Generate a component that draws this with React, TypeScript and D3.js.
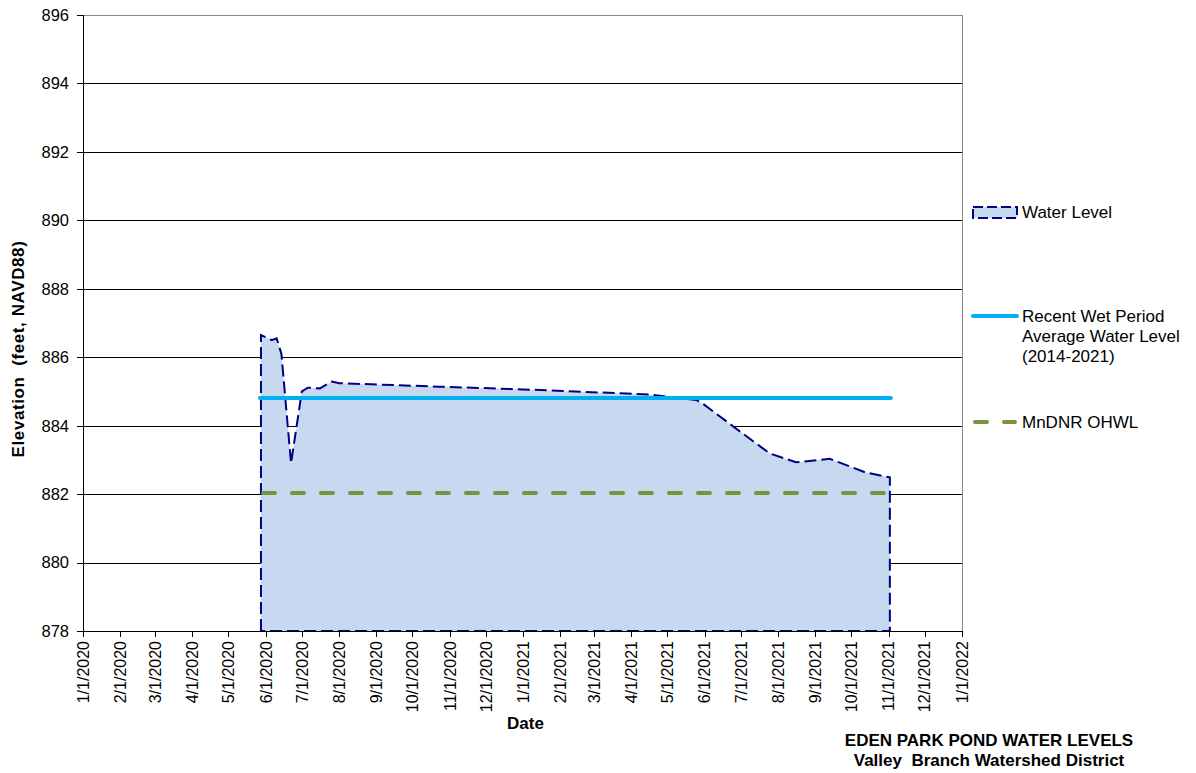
import React, { useEffect } from "react";
import * as d3 from "d3";

// water level readings
const obsDates = [
  "2020-05-28", "2020-06-06", "2020-06-10", "2020-06-14", "2020-06-22",
  "2020-07-01", "2020-07-06", "2020-07-16", "2020-07-26", "2020-08-01",
  "2020-10-23", "2021-01-01", "2021-03-06", "2021-04-16", "2021-04-30",
  "2021-05-25", "2021-05-31", "2021-06-25", "2021-07-25", "2021-08-16",
  "2021-09-13", "2021-10-13", "2021-11-02",
];
const obsLevels = [
  886.65, 886.5, 886.55, 886.1, 882.9,
  885.0, 885.11, 885.09, 885.29, 885.24,
  885.14, 885.06, 884.97, 884.91, 884.85,
  884.75, 884.63, 883.97, 883.19, 882.93,
  883.03, 882.63, 882.49,
];

const wetPeriodAvg = 884.81;
const ohwl = 882.03;

const yTicks = [878, 880, 882, 884, 886, 888, 890, 892, 894, 896];
const xDomain = ["2020-01-01", "2022-01-01"];

const font = "'Liberation Sans', Arial, sans-serif";

const App: React.FC = () => {
  useEffect(() => {
    document.body.style.margin = "0";
  }, []);

  const width = 1196;
  const height = 773;
  const left = 83;
  const right = 962;
  const top = 15;
  const bottom = 631;

  const parse = d3.timeParse("%Y-%m-%d");
  const data = obsDates.map((d, i) => ({ date: parse(d) as Date, level: obsLevels[i] }));

  const x = d3.scaleTime().domain(xDomain.map((d) => parse(d) as Date)).range([left, right]);
  const y = d3.scaleLinear().domain([878, 896]).range([bottom, top]);
  const xTicks = d3.timeMonth.range(x.domain()[0], d3.timeDay.offset(x.domain()[1], 1));
  const fmt = d3.timeFormat("%-m/%-d/%Y");

  const area = d3
    .area<{ date: Date; level: number }>()
    .x((d) => x(d.date))
    .y0(y(878))
    .y1((d) => y(d.level));

  const first = data[0];
  const last = data[data.length - 1];
  const outline = d3
    .line<[number, number]>()
    .x((d) => d[0])
    .y((d) => d[1]);
  const outlinePts: [number, number][] = [
    [x(first.date), y(878)],
    ...data.map((d) => [x(d.date), y(d.level)] as [number, number]),
    [x(last.date), y(878)],
  ];

  return (
    <svg width={width} height={height} style={{ display: "block", background: "#fff" }} fontFamily={font}>
      {/* gridlines */}
      {yTicks.map((t) => (
        <line
          key={t}
          x1={left}
          x2={right}
          y1={Math.round(y(t)) + 0.5}
          y2={Math.round(y(t)) + 0.5}
          stroke={t === 896 ? "#888" : "#000"}
          strokeWidth={1}
        />
      ))}
      <line x1={right + 0.5} x2={right + 0.5} y1={top} y2={bottom} stroke="#888" />

      {/* water level area */}
      <path d={area(data) || ""} fill="#C6D9F0" />
      <path
        d={(outline(outlinePts) || "") + "Z"}
        fill="none"
        stroke="#000080"
        strokeWidth={2}
        strokeDasharray="12,5"
      />

      {/* reference lines */}
      <line
        x1={x(first.date) - 1}
        x2={x(last.date) + 1}
        y1={y(wetPeriodAvg)}
        y2={y(wetPeriodAvg)}
        stroke="#00B0F0"
        strokeWidth={4}
        strokeLinecap="round"
      />
      <line
        x1={x(first.date) + 2}
        x2={x(last.date)}
        y1={y(ohwl)}
        y2={y(ohwl)}
        stroke="#77933C"
        strokeWidth={4}
        strokeLinecap="round"
        strokeDasharray="12,17"
      />

      {/* axes */}
      <line x1={left + 0.5} x2={left + 0.5} y1={top} y2={bottom + 0.5} stroke="#000" />
      <line x1={left} x2={right + 1} y1={bottom + 0.5} y2={bottom + 0.5} stroke="#000" />
      {yTicks.map((t) => (
        <g key={t}>
          <line x1={left - 6} x2={left} y1={Math.round(y(t)) + 0.5} y2={Math.round(y(t)) + 0.5} stroke="#000" />
          <text x={left - 14} y={y(t)} dy="0.36em" textAnchor="end" fontSize={16.5} fill="#000">
            {t}
          </text>
        </g>
      ))}
      {xTicks.map((t) => (
        <g key={+t}>
          <line
            x1={Math.round(x(t)) + 0.5}
            x2={Math.round(x(t)) + 0.5}
            y1={bottom}
            y2={bottom + 6}
            stroke="#000"
          />
          <text
            transform={`translate(${x(t)},${bottom + 10}) rotate(-90)`}
            dy="0.36em"
            textAnchor="end"
            fontSize={16}
            fill="#000"
          >
            {fmt(t)}
          </text>
        </g>
      ))}

      {/* axis titles */}
      <text x={(left + right) / 2 + 3} y={729} textAnchor="middle" fontSize={17} fontWeight="bold">
        Date
      </text>
      <text
        transform={`translate(24,${349}) rotate(-90)`}
        textAnchor="middle"
        fontSize={17}
        fontWeight="bold"
        letterSpacing={0.6}
        style={{ whiteSpace: "pre" }}
      >
        {"Elevation  (feet, NAVD88)"}
      </text>

      {/* legend */}
      <rect x={973} y={207} width={44} height={11} fill="#C6D9F0" stroke="#000080" strokeWidth={2} strokeDasharray="10,4" />
      <text x={1022} y={212} dy="0.36em" fontSize={17}>Water Level</text>

      <line x1={973} x2={1017} y1={316} y2={316} stroke="#00B0F0" strokeWidth={4} strokeLinecap="round" />
      <text x={1022} y={316} dy="0.36em" fontSize={17}>Recent Wet Period</text>
      <text x={1022} y={336} dy="0.36em" fontSize={17}>Average Water Level</text>
      <text x={1022} y={356} dy="0.36em" fontSize={17}>(2014-2021)</text>

      <line x1={975} x2={1015} y1={422} y2={422} stroke="#77933C" strokeWidth={4} strokeLinecap="round" strokeDasharray="12,17" />
      <text x={1022} y={422} dy="0.36em" fontSize={17}>MnDNR OHWL</text>

      {/* chart title */}
      <text x={989} y={746} textAnchor="middle" fontSize={17} fontWeight="bold">
        EDEN PARK POND WATER LEVELS
      </text>
      <text x={989} y={766} textAnchor="middle" fontSize={17} fontWeight="bold" style={{ whiteSpace: "pre" }}>
        {"Valley  Branch Watershed District"}
      </text>
    </svg>
  );
};

export default App;
